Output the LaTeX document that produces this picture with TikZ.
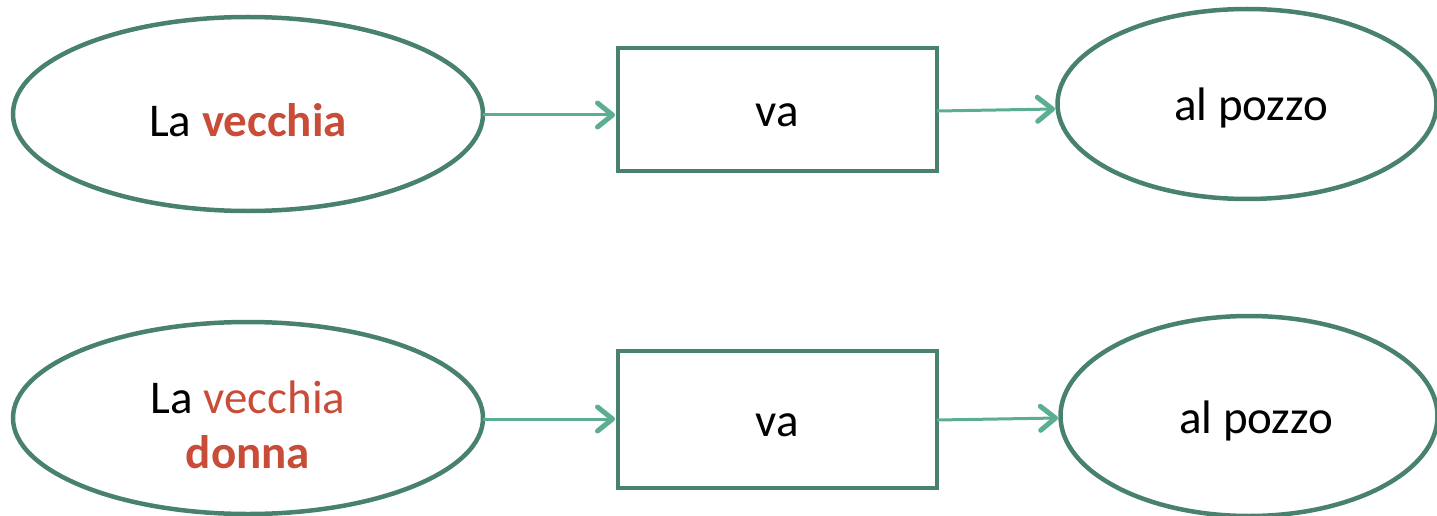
\documentclass[tikz,border=0pt]{standalone}
\usepackage{fontspec}
\setmainfont{Carlito}
\usetikzlibrary{shapes.geometric,arrows.meta}
\definecolor{edgegreen}{RGB}{72,130,110}
\definecolor{arrowgreen}{RGB}{92,174,146}
\definecolor{redtext}{RGB}{200,76,56}
\tikzset{
  ell/.style={draw=edgegreen,line width=4.5pt,ellipse,inner sep=0pt},
  boxnode/.style={draw=edgegreen,line width=4.5pt,rectangle,inner sep=0pt},
  conn/.style={draw=arrowgreen,line width=3pt,-{Straight Barb[length=15pt,width=24pt,line width=5pt,line cap=round,line join=round]}},
  lbl/.style={font=\fontsize{47}{56}\selectfont,align=center,inner sep=0pt},
}
\begin{document}
\begin{tikzpicture}[x=1pt,y=-1pt]
\useasboundingbox (0,0) rectangle (1437,516);
% top row
\node[ell,minimum width=470pt,minimum height=194pt] (e1) at (248,114) {};
\node[boxnode,minimum width=319pt,minimum height=123pt] (r1) at (777.5,109.5) {};
\node[ell,minimum width=379pt,minimum height=190pt] (e2) at (1247,104) {};
\node[lbl] (t1) at (248,120) {La \textcolor{redtext}{\textbf{vecchia}}};
\node[lbl] (t2) at (777,115) {va};
\node[lbl] (t3) at (1251,108) {al pozzo};
\coordinate (a1s) at (483,115);
\coordinate (a1e) at (615,115);
\coordinate (a2s) at (937,111);
\coordinate (a2e) at (1055,109);
\draw[conn] (a1s) -- (a1e);
\draw[conn] (a2s) -- (a2e);
% bottom row
\node[ell,minimum width=470pt,minimum height=192pt] (e3) at (248,418) {};
\node[boxnode,minimum width=319pt,minimum height=137pt] (r2) at (777.5,419.5) {};
\node[ell,minimum width=377pt,minimum height=200pt] (e4) at (1249,416) {};
\node[lbl] (t4) at (248,397) {La \textcolor{redtext}{vecchia}};
\node[lbl] (t5) at (248,452) {\textcolor{redtext}{\textbf{donna}}};
\node[lbl] (t6) at (777,425) {va};
\node[lbl] (t7) at (1256,421) {al pozzo};
\coordinate (a3s) at (483,419);
\coordinate (a3e) at (615,419);
\coordinate (a4s) at (937,420);
\coordinate (a4e) at (1058,418);
\draw[conn] (a3s) -- (a3e);
\draw[conn] (a4s) -- (a4e);
\end{tikzpicture}
\end{document}
